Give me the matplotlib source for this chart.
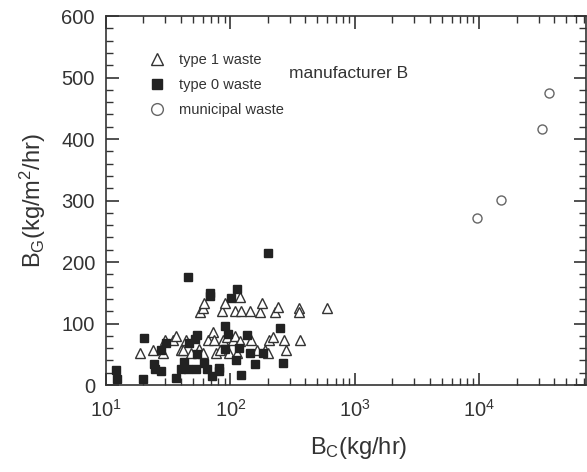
import numpy as np
import matplotlib.pyplot as plt
from matplotlib.ticker import LogLocator, MultipleLocator, NullFormatter

plt.rcParams["font.family"] = ["Liberation Sans", "DejaVu Sans"]
plt.rcParams["mathtext.fontset"] = "custom"
plt.rcParams["mathtext.rm"] = "Liberation Sans"
plt.rcParams["mathtext.it"] = "Liberation Sans:italic"

# type 1 waste (open triangles)
t1_x = [18.7, 23.7, 28.6, 29.8, 34.8, 36.3, 39.8, 41.7, 43.9, 48.3, 55.5, 56.9,
        60.6, 61.4, 60.6, 66.3, 72, 73.3, 76.6, 82.5, 85.7, 90, 87.7, 93.3,
        97.9, 104, 109, 109, 112, 119, 122, 119, 143, 146, 164, 174, 180, 191,
        202, 205, 218, 228, 243, 271, 278, 357, 357, 363, 601]
t1_y = [51.5, 57, 52, 73, 73, 80, 57, 57, 73, 52, 58, 119,
        125, 133, 51.5, 73, 87, 73, 51.5, 57, 120, 134, 73, 78,
        51.5, 73, 80, 121, 51.5, 143.5, 121, 72, 121, 73, 57, 118, 133, 57,
        52.5, 73, 77.5, 119, 127, 73, 57, 125, 119, 73, 125]

# type 0 waste (filled squares)
t0_x = [12.0, 12.2, 20.2, 19.9, 24.5, 24.8, 27.7, 27.7, 30.2, 36.3, 40.1, 42.7,
        45.4, 45.4, 46.3, 51.9, 54, 52.9, 54, 61.4, 65.2, 68, 68, 70.6, 81, 81,
        90.6, 90.6, 94.9, 102, 113, 111, 118, 122, 137, 143, 158, 182, 202,
        252, 266]
t0_y = [24, 10, 77, 10, 33.6, 26, 22.8, 57, 68, 12, 26.5, 37,
        25.5, 175, 68, 75, 81, 26.5, 50, 35, 25.5, 149, 144, 14.6, 27, 22,
        96, 58.5, 83, 141, 156, 40.6, 60, 17, 81, 52.5, 34, 52.5, 215,
        93, 36]

# municipal waste (open circles)
mw_x = [9670, 15070, 31800, 36400]
mw_y = [271, 301, 417, 475]

fig = plt.figure(figsize=(5.87, 4.72), dpi=100)
ax = fig.add_axes([0.1806, 0.1843, 0.8174, 0.7817])

ax.plot(t1_x, t1_y, "^", ms=6.5, mfc="white", mec="#333333", mew=1.0,
        ls="none", label="type 1 waste")
ax.plot(t0_x, t0_y, "s", ms=5.5, mfc="#222222", mec="#222222",
        ls="none", label="type 0 waste")
ax.plot(mw_x, mw_y, "o", ms=6.5, mfc="white", mec="#666666", mew=1.0,
        ls="none", label="municipal waste")

ax.set_xscale("log")
ax.set_xlim(10, 7.2e4)
ax.set_ylim(0, 600)
ax.xaxis.set_major_locator(LogLocator(base=10, numticks=10))
ax.xaxis.set_minor_locator(LogLocator(base=10, subs=np.arange(2, 10), numticks=10))
ax.xaxis.set_minor_formatter(NullFormatter())
ax.yaxis.set_major_locator(MultipleLocator(100))
ax.yaxis.set_minor_locator(MultipleLocator(20))

ax.tick_params(which="both", direction="in", top=True, right=True,
               colors="#333333", labelcolor="#333333", labelsize=14.5, pad=8)
ax.tick_params(axis="x", which="major", pad=10)
ax.tick_params(which="major", length=9, width=1.2)
ax.tick_params(which="minor", length=5, width=1.0)
for s in ax.spines.values():
    s.set_color("#333333")
    s.set_linewidth(1.2)

ax.set_xlabel(r"B$_{\rm C}$(kg/hr)", fontsize=17, color="#333333")
ax.xaxis.set_label_coords(0.527, -0.135)
ax.set_ylabel(r"B$_{\rm G}$(kg/m$^2$/hr)", fontsize=17, color="#333333", labelpad=10)

ax.legend(loc="upper left", bbox_to_anchor=(0.055, 0.935), frameon=False,
          fontsize=10.5, markerscale=1.3, handlelength=1.6, handletextpad=0.7,
          labelspacing=0.75, labelcolor="#333333")
ax.text(289 / 587, 1 - 73 / 472, "manufacturer B", transform=fig.transFigure,
        fontsize=12.5, color="#333333", va="center")

fig.savefig("out.png", dpi=100)
